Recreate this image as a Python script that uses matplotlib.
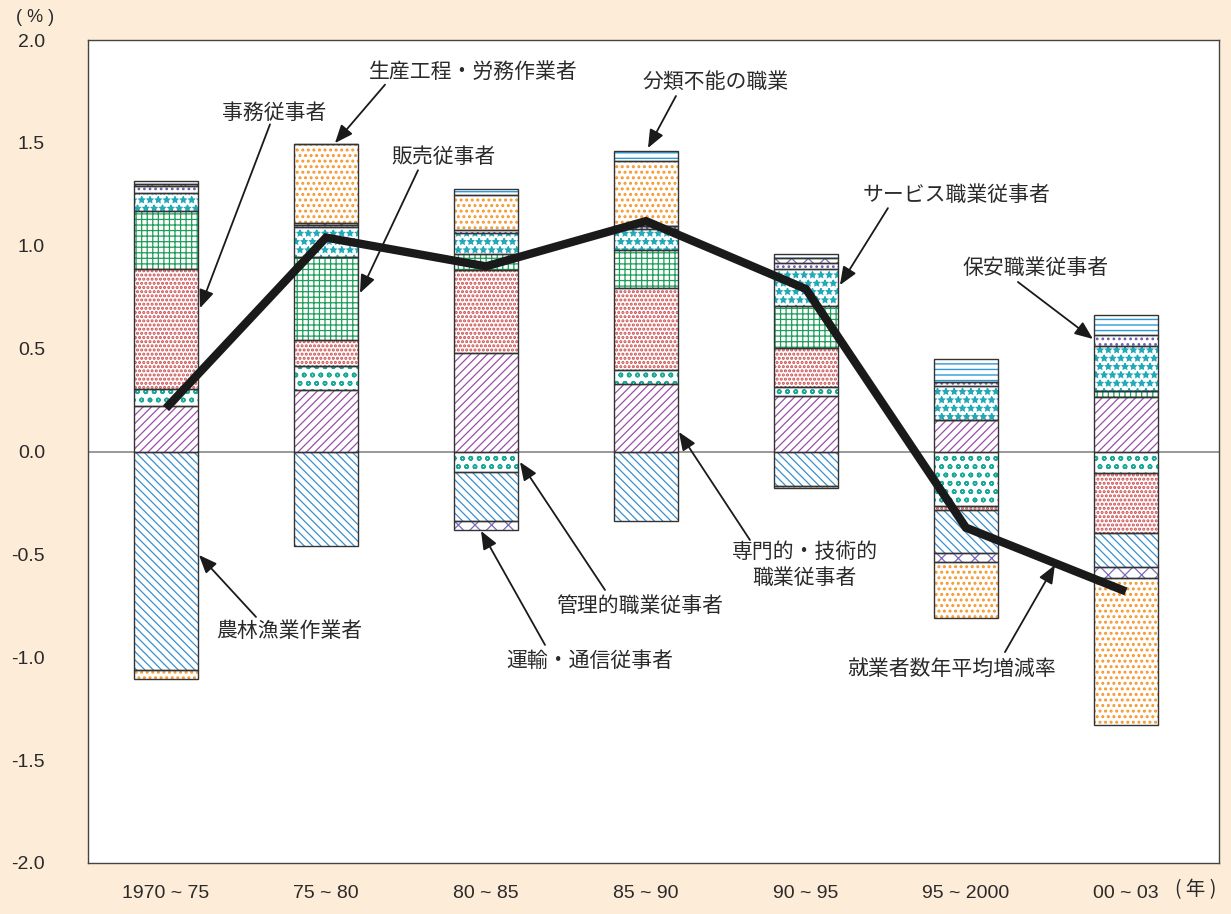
import matplotlib.pyplot as plt
import numpy as np

plt.rcParams['font.family'] = ['Noto Sans CJK JP', 'DejaVu Sans']
plt.rcParams['hatch.linewidth'] = 0.9

periods = ["1970 ~ 75", "75 ~ 80", "80 ~ 85", "85 ~ 90", "90 ~ 95", "95 ~ 2000", "00 ~ 03"]

# contribution of each occupation to the yearly change (percentage points)
professional = [0.22, 0.30, 0.48, 0.33, 0.27, 0.155, 0.265]
managerial = [0.085, 0.115, -0.10, 0.065, 0.045, -0.265, -0.105]
clerical = [0.58, 0.125, 0.40, 0.40, 0.19, -0.02, -0.29]
sales = [0.285, 0.405, 0.08, 0.185, 0.20, 0.0, 0.03]
service = [0.085, 0.145, 0.10, 0.10, 0.18, 0.165, 0.22]
security = [0.035, 0.012, 0.015, 0.015, 0.03, 0.02, 0.05]
agriculture = [-1.06, -0.46, -0.24, -0.34, -0.17, -0.21, -0.165]
transport = [0.01, 0.01, -0.04, 0.0, 0.025, -0.04, -0.055]
production = [-0.045, 0.385, 0.17, 0.315, -0.005, -0.275, -0.715]
unclassified = [0.015, 0.0, 0.03, 0.05, 0.02, 0.11, 0.10]

# average yearly change in number of employed
growth = [0.21, 1.04, 0.90, 1.12, 0.79, -0.37, -0.68]

# values, hatch colour, hatch, hatch line width
series = [
    (professional, '#9b4fa8', '////', 0.9),
    (managerial, '#1aa898', 'oo', 1.1),
    (clerical, '#cc4c4c', '....', 1.5),
    (sales, '#1e9e5a', '+++', 0.9),
    (service, '#22a9b8', '**', 1.0),
    (security, '#6a5cb0', '...', 1.2),
    (agriculture, '#3a8fd0', '\\\\\\\\', 0.9),
    (transport, '#7a6ab8', 'xx', 0.9),
    (production, '#f5982e', '...', 1.4),
    (unclassified, '#2a9ad8', '---', 1.0),
]

# arrow labels: text, text position, arrow start, arrow tip
notes = [
    ("事務従事者", (0.675, 1.645), (0.65, 1.59), (0.2125, 0.697)),
    ("生産工程・労務作業者", (1.919, 1.845), (1.369, 1.783), (1.056, 1.499)),
    ("販売従事者", (1.7375, 1.431), (1.575, 1.367), (1.2125, 0.770)),
    ("分類不能の職業", (3.4375, 1.796), (3.1875, 1.728), (3.0125, 1.475)),
    ("サービス職業従事者", (4.944, 1.247), (4.5125, 1.183), (4.2125, 0.809)),
    ("保安職業従事者", (5.4375, 0.892), (5.325, 0.824), (5.794, 0.547)),
    ("専門的・技術的\n職業従事者", (3.994, -0.552), (3.65, -0.43), (3.206, 0.095)),
    ("管理的職業従事者", (2.9625, -0.751), (2.744, -0.673), (2.2125, -0.051)),
    ("運輸・通信従事者", (2.65, -1.018), (2.369, -0.940), (1.969, -0.386)),
    ("農林漁業作業者", (0.769, -0.872), (0.5625, -0.804), (0.206, -0.503)),
    ("就業者数年平均増減率", (4.9125, -1.057), (5.244, -0.975), (5.556, -0.552)),
]

fig = plt.figure(figsize=(12.31, 9.14), dpi=100)
fig.patch.set_facecolor('#fdecd8')
ax = fig.add_axes([0.0715, 0.0558, 0.9185, 0.9004])
ax.set_facecolor('white')

x = np.arange(len(periods))
width = 0.4
pos_base = np.zeros(len(periods))
neg_base = np.zeros(len(periods))
for values, color, hatch, hlw in series:
    v = np.array(values)
    bottom = np.where(v >= 0, pos_base, neg_base)
    with plt.rc_context({'hatch.linewidth': hlw}):
        ax.bar(x, v, width, bottom=bottom, color='white', edgecolor=color,
               hatch=hatch, linewidth=0, zorder=2)
    ax.bar(x, v, width, bottom=bottom, fill=False, edgecolor='#333333',
           linewidth=1.0, zorder=3)
    pos_base += np.where(v >= 0, v, 0)
    neg_base += np.where(v < 0, v, 0)

ax.axhline(0, color='#888888', linewidth=1.2, zorder=1)
ax.plot(x, growth, color='#1a1a1a', linewidth=6, zorder=5,
        solid_joinstyle='miter', solid_capstyle='butt')

for label, tpos, start, tip in notes:
    ax.text(tpos[0], tpos[1], label, ha='center', va='center', fontsize=15,
            color='#2a2a2a', linespacing=1.25, zorder=6)
    ax.annotate('', xy=tip, xytext=start,
                arrowprops=dict(arrowstyle='-|>,head_length=1.1,head_width=0.45',
                                color='#1a1a1a', lw=1.3, shrinkA=0, shrinkB=0),
                zorder=6)

ax.set_xlim(-0.4875, 6.58)
ax.set_ylim(-2.0, 2.0)
yt = np.arange(-2.0, 2.01, 0.5)
ax.set_yticks(yt)
ax.set_yticklabels([f"{t:.1f}" for t in yt],
                   family='Liberation Sans', fontsize=14, color='#2a2a2a')
ax.set_xticks(x)
ax.set_xticklabels(periods, family='Liberation Sans', fontsize=14, color='#2a2a2a')
ax.tick_params(length=0)
ax.tick_params(axis='y', pad=31)
ax.tick_params(axis='x', pad=16)
for s in ax.spines.values():
    s.set_color('#444444')
    s.set_linewidth(1.0)

fig.text(35 / 1231, 1 - 18 / 914, "( % )", ha='center', va='center',
         fontsize=13, color='#2a2a2a', family='Liberation Sans')
fig.text(1196 / 1231, 1 - 890 / 914, "( 年 )", ha='center', va='center',
         fontsize=14, color='#2a2a2a')

fig.savefig('out.png', dpi=100, facecolor=fig.get_facecolor())
